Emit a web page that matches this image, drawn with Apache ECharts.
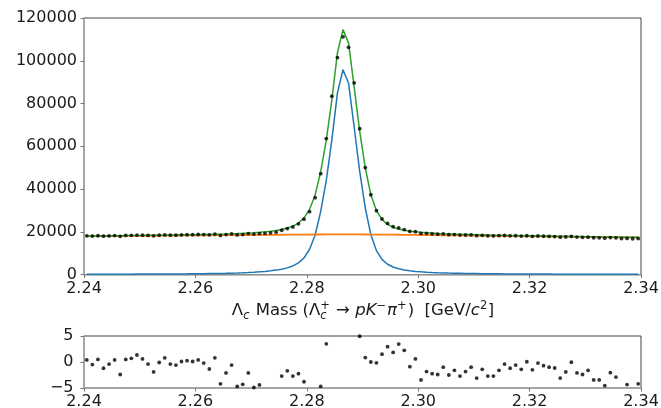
<!DOCTYPE html>
<html>
<head>
<meta charset="utf-8">
<script src="https://cdn.jsdelivr.net/npm/echarts@6/dist/echarts.min.js"></script>
<style>
  html, body { margin: 0; padding: 0; background: #ffffff; }
  #chart { width: 661px; height: 408px; }
</style>
</head>
<body>
<div id="chart"></div>
<script>
// Histogram binning of the invariant mass (GeV/c^2)
const massLow = 2.24;
const massHigh = 2.34;
const binWidth = 0.001;

// Candidates per bin
const counts = [
  18074, 17978, 18137, 17934, 18066, 18204, 17852, 18267, 18324, 18442,
  18371, 18266, 18093, 18371, 18529, 18401, 18408, 18544, 18604, 18629,
  18715, 18683, 18575, 18930, 18303, 18671, 18967, 18509, 18683, 19127,
  18894, 19151, 19200, 19492, 19780, 20708, 21470, 22234, 23711, 25862,
  29415, 35956, 47188, 63605, 83398, 101496, 111170, 106276, 89605, 68212,
  50010, 37300, 29854, 26000, 23891, 22395, 21794, 21034, 20152, 20035,
  19237, 19261, 19047, 18886, 18962, 18645, 18681, 18445, 18482, 18523,
  18173, 18340, 18103, 18048, 18144, 18256, 18098, 18134, 17981, 18132,
  17881, 18013, 17906, 17826, 17766, 17467, 17589, 17800, 17491, 17415,
  17485, 17203, 17168, 16987, 17287, 17141, 16790, 16882, 16736, 16835
];

// Fitted signal component per bin
const signalFit = [
  120, 125, 130, 135, 140, 150, 155, 160, 170, 180,
  190, 200, 210, 225, 240, 255, 270, 290, 310, 335,
  360, 390, 420, 460, 500, 560, 630, 720, 820, 940,
  1080, 1250, 1450, 1700, 2050, 2500, 3100, 4000, 5400, 7800,
  11800, 18500, 29500, 44000, 63000, 85000, 95800, 89500, 69000, 48200,
  31100, 18600, 11200, 7100, 4800, 3500, 2700, 2150, 1750, 1450,
  1250, 1080, 950, 840, 750, 670, 610, 555, 505, 460,
  425, 390, 360, 335, 310, 290, 270, 255, 240, 225,
  212, 200, 190, 180, 170, 162, 154, 147, 140, 134,
  128, 122, 117, 112, 108, 104, 100, 96, 92, 89
];

// Fitted combinatorial background per bin
const backgroundFit = [
  17900, 17920, 17940, 17960, 17980, 18000, 18020, 18040, 18060, 18080,
  18100, 18120, 18140, 18160, 18180, 18200, 18220, 18240, 18260, 18280,
  18300, 18320, 18340, 18360, 18380, 18400, 18420, 18440, 18460, 18480,
  18500, 18520, 18540, 18560, 18580, 18600, 18620, 18640, 18660, 18680,
  18700, 18710, 18720, 18730, 18740, 18750, 18750, 18750, 18740, 18730,
  18720, 18700, 18680, 18660, 18640, 18620, 18590, 18560, 18530, 18500,
  18470, 18440, 18410, 18380, 18350, 18320, 18290, 18260, 18230, 18200,
  18170, 18140, 18110, 18080, 18050, 18020, 17990, 17960, 17930, 17900,
  17870, 17840, 17810, 17780, 17750, 17720, 17690, 17660, 17630, 17600,
  17570, 17540, 17510, 17480, 17450, 17420, 17390, 17360, 17330, 17300
];

// Pull (data - fit) / sigma per bin
const pulls = [
  0.4, -0.5, 0.5, -1.2, -0.4, 0.4, -2.4, 0.5, 0.7, 1.35,
  0.6, -0.4, -1.9, -0.1, 0.8, -0.4, -0.6, 0.1, 0.25, 0.1,
  0.4, -0.2, -1.35, 0.8, -4.2, -2.1, -0.6, -4.7, -4.3, -2.1,
  -4.9, -4.4, -5.6, -5.4, -5.9, -2.7, -1.7, -2.7, -2.25, -3.8,
  -6.2, -6.5, -4.7, 3.5, 5.8, -7.0, -10.0, -6.0, 6.3, 4.95,
  0.85, 0.0, -0.15, 1.5, 2.95, 1.85, 3.45, 2.25, -0.9, 0.6,
  -3.45, -1.85, -2.25, -2.4, -1.0, -2.5, -1.6, -2.7, -1.85, -1.0,
  -3.1, -1.4, -2.7, -2.7, -1.6, -0.4, -1.2, -0.6, -1.4, 0.05,
  -1.5, -0.2, -0.7, -1.0, -1.15, -3.1, -1.9, -0.05, -2.1, -2.4,
  -1.6, -3.45, -3.45, -4.55, -2.05, -2.9, -5.3, -4.35, -5.2, -4.2
];

// Axis tick settings
const massTickStep = 0.02;
const countMax = 120000;
const countTickStep = 20000;
const pullRange = 5;
const pullTickStep = 5;
const pullTicks = [-5, 0, 5];

// Bin centres from the binning definition
const binCenters = counts.map((_, i) => +(massLow + (i + 0.5) * binWidth).toFixed(5));
const totalFit = signalFit.map((s, i) => s + backgroundFit[i]);
const pairs = arr => arr.map((v, i) => [binCenters[i], v]);

const FONT = '"DejaVu Sans", "Liberation Sans", sans-serif';
const TEXT = '#1a1a1a';

const chart = echarts.init(document.getElementById('chart'), null, { renderer: 'canvas' });

const axisLineStyle = { show: true, onZero: false, lineStyle: { color: '#a8a8a8', width: 1.5 } };
const axisTickStyle = { show: true, inside: false, length: 3.5, lineStyle: { color: '#777', width: 1 } };

function xAxisCfg(gridIndex) {
  return {
    type: 'value', gridIndex, min: massLow, max: massHigh, interval: massTickStep,
    axisLine: axisLineStyle,
    axisTick: axisTickStyle,
    axisLabel: {
      show: true, margin: 6, fontFamily: FONT, fontSize: 16, color: TEXT,
      showMinLabel: true, showMaxLabel: true, hideOverlap: false,
      formatter: v => v.toFixed(2)
    },
    splitLine: { show: false }
  };
}

function yAxisCfg(gridIndex, min, max, step, showLabels) {
  return {
    type: 'value', gridIndex, min, max, interval: step,
    axisLine: axisLineStyle,
    axisTick: axisTickStyle,
    axisLabel: {
      show: showLabels, margin: 7, fontFamily: FONT, fontSize: 16, color: TEXT,
      showMinLabel: true, showMaxLabel: true, hideOverlap: false, formatter: v => String(v)
    },
    splitLine: { show: false }
  };
}

// Λc Mass (Λc+ → pK−π+)  [GeV/c²] assembled from pieces, measured on a canvas
const measureCtx = document.createElement('canvas').getContext('2d');
function mathText(pieces, centerX, baseline) {
  let cursor = 0, lastStart = 0;
  const placed = pieces.map(p => {
    const font = (p.italic ? 'italic ' : '') + p.size + 'px ' + FONT;
    measureCtx.font = font;
    const w = measureCtx.measureText(p.text).width + (p.pad || 0);
    let start;
    if (p.stack) { start = lastStart; cursor = Math.max(cursor, start + w); }
    else { start = cursor; cursor += w; lastStart = start; }
    return { p, font, start };
  });
  const left = centerX - cursor / 2;
  return placed.map(o => ({
    type: 'text',
    x: left + o.start,
    y: baseline - (o.p.rise || 0) - 0.346 * o.p.size,
    silent: true,
    style: { text: o.p.text, font: o.font, fill: TEXT, align: 'left', verticalAlign: 'middle' }
  }));
}
const big = 16.5, small = 11.5;
const xTitle = mathText([
  { text: 'Λ', size: big },
  { text: 'c', size: small, italic: true, rise: -3.5, pad: 1 },
  { text: ' Mass (', size: big },
  { text: 'Λ', size: big },
  { text: '+', size: small, rise: 6.5, pad: 1 },
  { text: 'c', size: small, italic: true, rise: -3.5, stack: true },
  { text: ' → ', size: big },
  { text: 'pK', size: big, italic: true },
  { text: '−', size: small, rise: 6.5, pad: 1 },
  { text: 'π', size: big, italic: true },
  { text: '+', size: small, rise: 6.5, pad: 1 },
  { text: ')  [GeV/', size: big },
  { text: 'c', size: big, italic: true },
  { text: '2', size: small, rise: 6.5, pad: 0.5 },
  { text: ']', size: big }
], 363, 316.5);

const option = {
  animation: false,
  backgroundColor: '#ffffff',
  grid: [
    { left: 84, right: 20, top: 18, bottom: 133.5, show: true, borderColor: '#444', borderWidth: 1, backgroundColor: 'transparent', outerBoundsMode: 'none', containLabel: false },
    { left: 84, right: 20, top: 336, bottom: 20, show: true, borderColor: '#444', borderWidth: 1, backgroundColor: 'transparent', outerBoundsMode: 'none', containLabel: false }
  ],
  xAxis: [xAxisCfg(0), xAxisCfg(1)],
  yAxis: [
    yAxisCfg(0, 0, countMax, countTickStep, true),
    yAxisCfg(1, -pullRange, pullRange, pullTickStep, false)
  ],
  series: [
    {
      name: 'Signal', type: 'line', xAxisIndex: 0, yAxisIndex: 0, data: pairs(signalFit),
      showSymbol: false, symbol: 'none', smooth: false, z: 2,
      lineStyle: { color: '#1f77b4', width: 1.5 }
    },
    {
      name: 'Background', type: 'line', xAxisIndex: 0, yAxisIndex: 0, data: pairs(backgroundFit),
      showSymbol: false, symbol: 'none', smooth: false, z: 3,
      lineStyle: { color: '#ff7f0e', width: 1.8 }
    },
    {
      name: 'Total fit', type: 'line', xAxisIndex: 0, yAxisIndex: 0, data: pairs(totalFit),
      showSymbol: false, symbol: 'none', smooth: false, z: 4,
      lineStyle: { color: '#2ca02c', width: 1.5 }
    },
    {
      name: 'Data', type: 'scatter', xAxisIndex: 0, yAxisIndex: 0, data: pairs(counts),
      symbol: 'circle', symbolSize: 3.8, z: 5,
      itemStyle: { color: '#000000' }
    },
    {
      name: 'Pull', type: 'scatter', xAxisIndex: 1, yAxisIndex: 1, data: pairs(pulls),
      symbol: 'circle', symbolSize: 3.8, clip: true, z: 5,
      itemStyle: { color: '#000000' }
    }
  ]
};

chart.setOption(option);

// Pull-axis tick labels, placed through the pull axis scale
const pullLabels = pullTicks.map(v => {
  const [px, py] = chart.convertToPixel({ xAxisIndex: 1, yAxisIndex: 1 }, [massLow, v]);
  return {
    type: 'text', x: px - 3.5 - 7, y: py, silent: true,
    style: {
      text: v < 0 ? '\u2212' + Math.abs(v) : String(v),
      font: '16px ' + FONT, fill: TEXT, align: 'right', verticalAlign: 'middle'
    }
  };
});

chart.setOption({ graphic: xTitle.concat(pullLabels) });
</script>
</body>
</html>
